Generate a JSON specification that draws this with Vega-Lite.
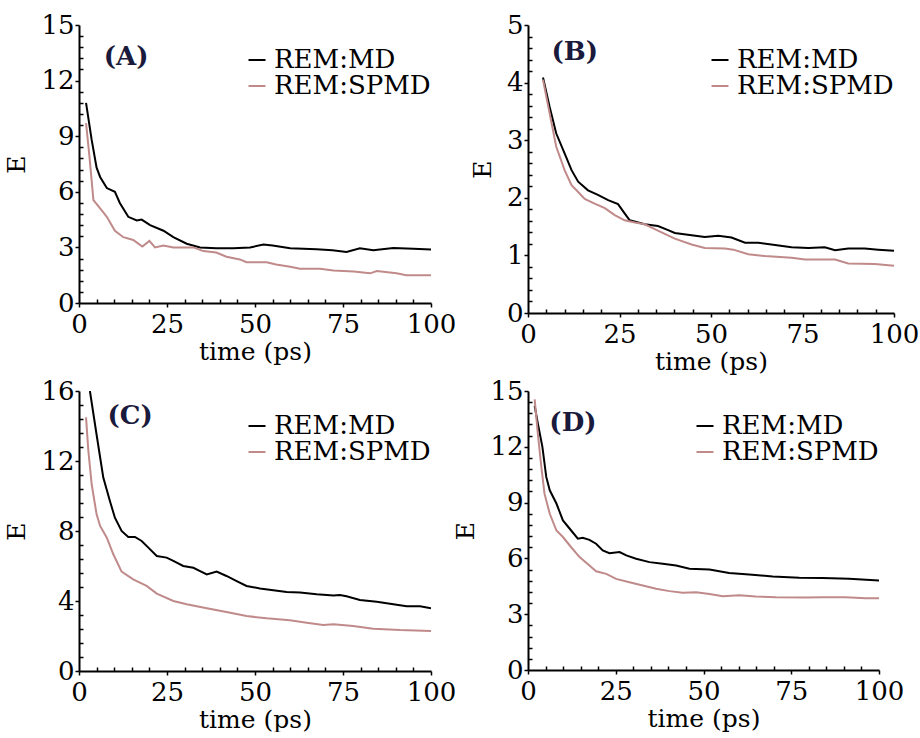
{
  "$schema": "https://vega.github.io/schema/vega-lite/v6.json",
  "padding": {"left": 4, "top": 12, "right": 0, "bottom": 0},
  "background": "white",
  "datasets": {
    "curves": [
      {"p":"A","s":"REM:MD","t":2.0,"E":10.8},{"p":"A","s":"REM:MD","t":3.6,"E":8.8},{"p":"A","s":"REM:MD","t":5,"E":7.3},{"p":"A","s":"REM:MD","t":6,"E":6.8},{"p":"A","s":"REM:MD","t":7.9,"E":6.2},{"p":"A","s":"REM:MD","t":10.2,"E":6.0},{"p":"A","s":"REM:MD","t":11.6,"E":5.4},{"p":"A","s":"REM:MD","t":14,"E":4.65},{"p":"A","s":"REM:MD","t":16.4,"E":4.45},{"p":"A","s":"REM:MD","t":17.8,"E":4.5},{"p":"A","s":"REM:MD","t":20.2,"E":4.2},{"p":"A","s":"REM:MD","t":24,"E":3.9},{"p":"A","s":"REM:MD","t":26.8,"E":3.55},{"p":"A","s":"REM:MD","t":30.6,"E":3.2},{"p":"A","s":"REM:MD","t":34.4,"E":3.0},{"p":"A","s":"REM:MD","t":39,"E":2.95},{"p":"A","s":"REM:MD","t":43.8,"E":2.95},{"p":"A","s":"REM:MD","t":48.6,"E":3.0},{"p":"A","s":"REM:MD","t":52.4,"E":3.15},{"p":"A","s":"REM:MD","t":55,"E":3.1},{"p":"A","s":"REM:MD","t":60,"E":2.95},{"p":"A","s":"REM:MD","t":67.5,"E":2.9},{"p":"A","s":"REM:MD","t":72,"E":2.85},{"p":"A","s":"REM:MD","t":76,"E":2.75},{"p":"A","s":"REM:MD","t":79.8,"E":2.95},{"p":"A","s":"REM:MD","t":83.6,"E":2.85},{"p":"A","s":"REM:MD","t":89.3,"E":2.97},{"p":"A","s":"REM:MD","t":95,"E":2.93},{"p":"A","s":"REM:MD","t":100,"E":2.88},
      {"p":"A","s":"REM:SPMD","t":2,"E":9.7},{"p":"A","s":"REM:SPMD","t":2.9,"E":8.05},{"p":"A","s":"REM:SPMD","t":4.1,"E":5.55},{"p":"A","s":"REM:SPMD","t":6,"E":5.1},{"p":"A","s":"REM:SPMD","t":7.9,"E":4.65},{"p":"A","s":"REM:SPMD","t":10.2,"E":3.9},{"p":"A","s":"REM:SPMD","t":12.6,"E":3.55},{"p":"A","s":"REM:SPMD","t":15.4,"E":3.4},{"p":"A","s":"REM:SPMD","t":18,"E":3.05},{"p":"A","s":"REM:SPMD","t":20,"E":3.35},{"p":"A","s":"REM:SPMD","t":21.6,"E":3.0},{"p":"A","s":"REM:SPMD","t":24,"E":3.1},{"p":"A","s":"REM:SPMD","t":26.8,"E":3.0},{"p":"A","s":"REM:SPMD","t":30.6,"E":3.0},{"p":"A","s":"REM:SPMD","t":32.5,"E":3.0},{"p":"A","s":"REM:SPMD","t":35.3,"E":2.8},{"p":"A","s":"REM:SPMD","t":39,"E":2.72},{"p":"A","s":"REM:SPMD","t":41.9,"E":2.5},{"p":"A","s":"REM:SPMD","t":45.7,"E":2.35},{"p":"A","s":"REM:SPMD","t":47.6,"E":2.2},{"p":"A","s":"REM:SPMD","t":53.3,"E":2.2},{"p":"A","s":"REM:SPMD","t":56,"E":2.08},{"p":"A","s":"REM:SPMD","t":60,"E":1.95},{"p":"A","s":"REM:SPMD","t":62.8,"E":1.85},{"p":"A","s":"REM:SPMD","t":68.5,"E":1.85},{"p":"A","s":"REM:SPMD","t":72.3,"E":1.75},{"p":"A","s":"REM:SPMD","t":78,"E":1.7},{"p":"A","s":"REM:SPMD","t":82.7,"E":1.6},{"p":"A","s":"REM:SPMD","t":84.6,"E":1.72},{"p":"A","s":"REM:SPMD","t":90.2,"E":1.6},{"p":"A","s":"REM:SPMD","t":93,"E":1.5},{"p":"A","s":"REM:SPMD","t":100,"E":1.5},
      {"p":"B","s":"REM:MD","t":4.1,"E":4.09},{"p":"B","s":"REM:MD","t":5.9,"E":3.58},{"p":"B","s":"REM:MD","t":7.7,"E":3.12},{"p":"B","s":"REM:MD","t":10,"E":2.77},{"p":"B","s":"REM:MD","t":11.9,"E":2.48},{"p":"B","s":"REM:MD","t":13.7,"E":2.28},{"p":"B","s":"REM:MD","t":16.4,"E":2.13},{"p":"B","s":"REM:MD","t":19.1,"E":2.05},{"p":"B","s":"REM:MD","t":21.9,"E":1.96},{"p":"B","s":"REM:MD","t":24.6,"E":1.89},{"p":"B","s":"REM:MD","t":26.4,"E":1.73},{"p":"B","s":"REM:MD","t":27.8,"E":1.61},{"p":"B","s":"REM:MD","t":31.9,"E":1.54},{"p":"B","s":"REM:MD","t":35.5,"E":1.51},{"p":"B","s":"REM:MD","t":38.3,"E":1.44},{"p":"B","s":"REM:MD","t":40.1,"E":1.39},{"p":"B","s":"REM:MD","t":44.7,"E":1.35},{"p":"B","s":"REM:MD","t":48.3,"E":1.32},{"p":"B","s":"REM:MD","t":52,"E":1.34},{"p":"B","s":"REM:MD","t":55.6,"E":1.31},{"p":"B","s":"REM:MD","t":59.3,"E":1.22},{"p":"B","s":"REM:MD","t":62.9,"E":1.22},{"p":"B","s":"REM:MD","t":67.5,"E":1.18},{"p":"B","s":"REM:MD","t":72,"E":1.14},{"p":"B","s":"REM:MD","t":76.6,"E":1.13},{"p":"B","s":"REM:MD","t":81.1,"E":1.14},{"p":"B","s":"REM:MD","t":83.9,"E":1.09},{"p":"B","s":"REM:MD","t":87.5,"E":1.12},{"p":"B","s":"REM:MD","t":92,"E":1.12},{"p":"B","s":"REM:MD","t":95.7,"E":1.1},{"p":"B","s":"REM:MD","t":100,"E":1.08},
      {"p":"B","s":"REM:SPMD","t":4.1,"E":4.05},{"p":"B","s":"REM:SPMD","t":5.9,"E":3.47},{"p":"B","s":"REM:SPMD","t":7.7,"E":2.89},{"p":"B","s":"REM:SPMD","t":10,"E":2.48},{"p":"B","s":"REM:SPMD","t":11.9,"E":2.22},{"p":"B","s":"REM:SPMD","t":13.7,"E":2.1},{"p":"B","s":"REM:SPMD","t":15.5,"E":1.98},{"p":"B","s":"REM:SPMD","t":18.2,"E":1.9},{"p":"B","s":"REM:SPMD","t":21,"E":1.82},{"p":"B","s":"REM:SPMD","t":23.7,"E":1.7},{"p":"B","s":"REM:SPMD","t":26.4,"E":1.61},{"p":"B","s":"REM:SPMD","t":29.2,"E":1.57},{"p":"B","s":"REM:SPMD","t":31.9,"E":1.54},{"p":"B","s":"REM:SPMD","t":35.5,"E":1.43},{"p":"B","s":"REM:SPMD","t":40.1,"E":1.29},{"p":"B","s":"REM:SPMD","t":44.7,"E":1.19},{"p":"B","s":"REM:SPMD","t":48.3,"E":1.13},{"p":"B","s":"REM:SPMD","t":53.8,"E":1.12},{"p":"B","s":"REM:SPMD","t":56.1,"E":1.1},{"p":"B","s":"REM:SPMD","t":60.2,"E":1.02},{"p":"B","s":"REM:SPMD","t":64.7,"E":0.99},{"p":"B","s":"REM:SPMD","t":72,"E":0.96},{"p":"B","s":"REM:SPMD","t":75.7,"E":0.93},{"p":"B","s":"REM:SPMD","t":83.9,"E":0.93},{"p":"B","s":"REM:SPMD","t":87.5,"E":0.86},{"p":"B","s":"REM:SPMD","t":94.8,"E":0.85},{"p":"B","s":"REM:SPMD","t":100,"E":0.82},
      {"p":"C","s":"REM:MD","t":3.1,"E":16.0},{"p":"C","s":"REM:MD","t":5,"E":13.5},{"p":"C","s":"REM:MD","t":6.9,"E":11.05},{"p":"C","s":"REM:MD","t":8.8,"E":9.7},{"p":"C","s":"REM:MD","t":10.2,"E":8.76},{"p":"C","s":"REM:MD","t":12.1,"E":8.0},{"p":"C","s":"REM:MD","t":14,"E":7.66},{"p":"C","s":"REM:MD","t":15.9,"E":7.66},{"p":"C","s":"REM:MD","t":17.8,"E":7.43},{"p":"C","s":"REM:MD","t":19.7,"E":7.05},{"p":"C","s":"REM:MD","t":22.1,"E":6.57},{"p":"C","s":"REM:MD","t":24.9,"E":6.48},{"p":"C","s":"REM:MD","t":26.8,"E":6.29},{"p":"C","s":"REM:MD","t":29.6,"E":6.0},{"p":"C","s":"REM:MD","t":32.5,"E":5.9},{"p":"C","s":"REM:MD","t":34.4,"E":5.71},{"p":"C","s":"REM:MD","t":36.3,"E":5.52},{"p":"C","s":"REM:MD","t":39.1,"E":5.68},{"p":"C","s":"REM:MD","t":41.9,"E":5.43},{"p":"C","s":"REM:MD","t":44.8,"E":5.14},{"p":"C","s":"REM:MD","t":47.6,"E":4.86},{"p":"C","s":"REM:MD","t":51.4,"E":4.72},{"p":"C","s":"REM:MD","t":55.2,"E":4.61},{"p":"C","s":"REM:MD","t":59,"E":4.51},{"p":"C","s":"REM:MD","t":62.8,"E":4.48},{"p":"C","s":"REM:MD","t":67.5,"E":4.38},{"p":"C","s":"REM:MD","t":72.3,"E":4.32},{"p":"C","s":"REM:MD","t":74.1,"E":4.34},{"p":"C","s":"REM:MD","t":76,"E":4.27},{"p":"C","s":"REM:MD","t":79.8,"E":4.06},{"p":"C","s":"REM:MD","t":84.6,"E":3.96},{"p":"C","s":"REM:MD","t":89.3,"E":3.81},{"p":"C","s":"REM:MD","t":93.1,"E":3.7},{"p":"C","s":"REM:MD","t":96.9,"E":3.7},{"p":"C","s":"REM:MD","t":100,"E":3.58},
      {"p":"C","s":"REM:SPMD","t":2,"E":14.5},{"p":"C","s":"REM:SPMD","t":2.65,"E":12.6},{"p":"C","s":"REM:SPMD","t":3.6,"E":10.67},{"p":"C","s":"REM:SPMD","t":5,"E":8.95},{"p":"C","s":"REM:SPMD","t":6,"E":8.29},{"p":"C","s":"REM:SPMD","t":7.9,"E":7.62},{"p":"C","s":"REM:SPMD","t":9.75,"E":6.67},{"p":"C","s":"REM:SPMD","t":12.1,"E":5.68},{"p":"C","s":"REM:SPMD","t":15.4,"E":5.24},{"p":"C","s":"REM:SPMD","t":19.2,"E":4.86},{"p":"C","s":"REM:SPMD","t":22.1,"E":4.42},{"p":"C","s":"REM:SPMD","t":26.8,"E":4.0},{"p":"C","s":"REM:SPMD","t":30.6,"E":3.81},{"p":"C","s":"REM:SPMD","t":36.3,"E":3.58},{"p":"C","s":"REM:SPMD","t":41.9,"E":3.37},{"p":"C","s":"REM:SPMD","t":47.6,"E":3.14},{"p":"C","s":"REM:SPMD","t":53.3,"E":3.01},{"p":"C","s":"REM:SPMD","t":59.9,"E":2.9},{"p":"C","s":"REM:SPMD","t":64.7,"E":2.76},{"p":"C","s":"REM:SPMD","t":69.4,"E":2.63},{"p":"C","s":"REM:SPMD","t":72.3,"E":2.67},{"p":"C","s":"REM:SPMD","t":77.9,"E":2.57},{"p":"C","s":"REM:SPMD","t":83.6,"E":2.42},{"p":"C","s":"REM:SPMD","t":91.2,"E":2.34},{"p":"C","s":"REM:SPMD","t":100,"E":2.29},
      {"p":"D","s":"REM:MD","t":1.9,"E":14.2},{"p":"D","s":"REM:MD","t":2.8,"E":13.25},{"p":"D","s":"REM:MD","t":4.1,"E":12.0},{"p":"D","s":"REM:MD","t":5.2,"E":10.38},{"p":"D","s":"REM:MD","t":6.2,"E":9.66},{"p":"D","s":"REM:MD","t":8.1,"E":8.95},{"p":"D","s":"REM:MD","t":9.95,"E":8.04},{"p":"D","s":"REM:MD","t":12.3,"E":7.5},{"p":"D","s":"REM:MD","t":14.2,"E":7.06},{"p":"D","s":"REM:MD","t":15.6,"E":7.11},{"p":"D","s":"REM:MD","t":17.5,"E":7.0},{"p":"D","s":"REM:MD","t":19.4,"E":6.79},{"p":"D","s":"REM:MD","t":21.3,"E":6.43},{"p":"D","s":"REM:MD","t":23.2,"E":6.28},{"p":"D","s":"REM:MD","t":26.1,"E":6.34},{"p":"D","s":"REM:MD","t":28,"E":6.16},{"p":"D","s":"REM:MD","t":30.8,"E":5.98},{"p":"D","s":"REM:MD","t":34.6,"E":5.8},{"p":"D","s":"REM:MD","t":38.4,"E":5.71},{"p":"D","s":"REM:MD","t":42.2,"E":5.62},{"p":"D","s":"REM:MD","t":46,"E":5.44},{"p":"D","s":"REM:MD","t":51.7,"E":5.4},{"p":"D","s":"REM:MD","t":57.3,"E":5.21},{"p":"D","s":"REM:MD","t":63,"E":5.13},{"p":"D","s":"REM:MD","t":69.7,"E":5.03},{"p":"D","s":"REM:MD","t":77.3,"E":4.96},{"p":"D","s":"REM:MD","t":83.9,"E":4.94},{"p":"D","s":"REM:MD","t":91.5,"E":4.9},{"p":"D","s":"REM:MD","t":100,"E":4.81},
      {"p":"D","s":"REM:SPMD","t":1.9,"E":14.55},{"p":"D","s":"REM:SPMD","t":2.8,"E":12.7},{"p":"D","s":"REM:SPMD","t":3.8,"E":10.92},{"p":"D","s":"REM:SPMD","t":4.7,"E":9.48},{"p":"D","s":"REM:SPMD","t":6.2,"E":8.4},{"p":"D","s":"REM:SPMD","t":8.1,"E":7.5},{"p":"D","s":"REM:SPMD","t":9.95,"E":7.15},{"p":"D","s":"REM:SPMD","t":12.3,"E":6.6},{"p":"D","s":"REM:SPMD","t":14.7,"E":6.07},{"p":"D","s":"REM:SPMD","t":17.5,"E":5.62},{"p":"D","s":"REM:SPMD","t":19.4,"E":5.31},{"p":"D","s":"REM:SPMD","t":22.3,"E":5.17},{"p":"D","s":"REM:SPMD","t":25.1,"E":4.9},{"p":"D","s":"REM:SPMD","t":28.9,"E":4.72},{"p":"D","s":"REM:SPMD","t":32.7,"E":4.54},{"p":"D","s":"REM:SPMD","t":36.5,"E":4.37},{"p":"D","s":"REM:SPMD","t":40.3,"E":4.24},{"p":"D","s":"REM:SPMD","t":44.1,"E":4.15},{"p":"D","s":"REM:SPMD","t":47.9,"E":4.18},{"p":"D","s":"REM:SPMD","t":51.7,"E":4.09},{"p":"D","s":"REM:SPMD","t":55.5,"E":3.97},{"p":"D","s":"REM:SPMD","t":60.2,"E":4.02},{"p":"D","s":"REM:SPMD","t":64.9,"E":3.95},{"p":"D","s":"REM:SPMD","t":70.6,"E":3.91},{"p":"D","s":"REM:SPMD","t":79.1,"E":3.9},{"p":"D","s":"REM:SPMD","t":83.9,"E":3.91},{"p":"D","s":"REM:SPMD","t":90.5,"E":3.91},{"p":"D","s":"REM:SPMD","t":96.2,"E":3.86},{"p":"D","s":"REM:SPMD","t":100,"E":3.86}
    ]
  },
  "columns": 2,
  "concat": [
    {
      "width": 352, "height": 278,
      "layer": [
        {
          "data": {"name": "curves"},
          "transform": [{"filter": "datum.p == 'A'"}],
          "mark": {"type": "line", "strokeWidth": 2, "clip": true},
          "encoding": {
            "x": {"field": "t", "type": "quantitative", "scale": {"domain": [0, 100], "nice": false},
              "axis": {"title": "time (ps)", "tickCount": 500, "labelOverlap": false, "values": [0,5,10,15,20,25,30,35,40,45,50,55,60,65,70,75,80,85,90,95,100],
                "labelExpr": "datum.value % 25 == 0 ? format(datum.value, 'd') : ''",
                "tickSize": {"condition": {"test": "datum.value % 25 == 0", "value": 4}, "value": -4}}},
            "y": {"field": "E", "type": "quantitative", "scale": {"domain": [0, 15], "nice": false},
              "axis": {"title": "E", "tickCount": 500, "labelOverlap": false, "values": [0,0.6,1.2,1.8,2.4,3,3.6,4.2,4.8,5.4,6,6.6,7.2,7.8,8.4,9,9.6,10.2,10.8,11.4,12,12.6,13.2,13.8,14.4,15],
                "labelExpr": "abs(datum.value/3 - round(datum.value/3)) < 0.01 ? format(datum.value, 'd') : ''",
                "tickSize": {"condition": {"test": "abs(datum.value/3 - round(datum.value/3)) < 0.01", "value": 4}, "value": -4}}},
            "color": {"field": "s", "type": "nominal", "scale": {"domain": ["REM:MD", "REM:SPMD"], "range": ["#000000", "#c08a8a"]},
              "legend": {"orient": "top-right", "title": " "}}
          }
        },
        {
          "data": {"values": [{"label": "(A)"}]},
          "mark": {"type": "text", "font": "DejaVu Serif", "fontSize": 26, "fontWeight": "bold", "color": "#1a1a3c"},
          "encoding": {"x": {"datum": 13.4, "type": "quantitative"}, "y": {"datum": 13.3, "type": "quantitative"}, "text": {"field": "label"}}
        }
      ]
    },
    {
      "width": 366, "height": 288,
      "layer": [
        {
          "data": {"name": "curves"},
          "transform": [{"filter": "datum.p == 'B'"}],
          "mark": {"type": "line", "strokeWidth": 2, "clip": true},
          "encoding": {
            "x": {"field": "t", "type": "quantitative", "scale": {"domain": [0, 100], "nice": false},
              "axis": {"title": "time (ps)", "tickCount": 500, "labelOverlap": false, "values": [0,5,10,15,20,25,30,35,40,45,50,55,60,65,70,75,80,85,90,95,100],
                "labelExpr": "datum.value % 25 == 0 ? format(datum.value, 'd') : ''",
                "tickSize": {"condition": {"test": "datum.value % 25 == 0", "value": 4}, "value": -4}}},
            "y": {"field": "E", "type": "quantitative", "scale": {"domain": [0, 5], "nice": false},
              "axis": {"title": "E", "tickCount": 500, "labelOverlap": false, "values": [0,0.2,0.4,0.6,0.8,1,1.2,1.4,1.6,1.8,2,2.2,2.4,2.6,2.8,3,3.2,3.4,3.6,3.8,4,4.2,4.4,4.6,4.8,5],
                "labelExpr": "abs(datum.value - round(datum.value)) < 0.01 ? format(datum.value, 'd') : ''",
                "tickSize": {"condition": {"test": "abs(datum.value - round(datum.value)) < 0.01", "value": 4}, "value": -4}}},
            "color": {"field": "s", "type": "nominal", "scale": {"domain": ["REM:MD", "REM:SPMD"], "range": ["#000000", "#c08a8a"]},
              "legend": {"orient": "top-right", "title": " "}}
          }
        },
        {
          "data": {"values": [{"label": "(B)"}]},
          "mark": {"type": "text", "font": "DejaVu Serif", "fontSize": 26, "fontWeight": "bold", "color": "#1a1a3c"},
          "encoding": {"x": {"datum": 12.8, "type": "quantitative"}, "y": {"datum": 4.53, "type": "quantitative"}, "text": {"field": "label"}}
        }
      ]
    },
    {
      "width": 352, "height": 280,
      "layer": [
        {
          "data": {"name": "curves"},
          "transform": [{"filter": "datum.p == 'C'"}],
          "mark": {"type": "line", "strokeWidth": 2, "clip": true},
          "encoding": {
            "x": {"field": "t", "type": "quantitative", "scale": {"domain": [0, 100], "nice": false},
              "axis": {"title": "time (ps)", "tickCount": 500, "labelOverlap": false, "values": [0,5,10,15,20,25,30,35,40,45,50,55,60,65,70,75,80,85,90,95,100],
                "labelExpr": "datum.value % 25 == 0 ? format(datum.value, 'd') : ''",
                "tickSize": {"condition": {"test": "datum.value % 25 == 0", "value": 4}, "value": -4}}},
            "y": {"field": "E", "type": "quantitative", "scale": {"domain": [0, 16], "nice": false},
              "axis": {"title": "E", "tickCount": 500, "labelOverlap": false, "values": [0,0.8,1.6,2.4,3.2,4,4.8,5.6,6.4,7.2,8,8.8,9.6,10.4,11.2,12,12.8,13.6,14.4,15.2,16],
                "labelExpr": "abs(datum.value/4 - round(datum.value/4)) < 0.01 ? format(datum.value, 'd') : ''",
                "tickSize": {"condition": {"test": "abs(datum.value/4 - round(datum.value/4)) < 0.01", "value": 4}, "value": -4}}},
            "color": {"field": "s", "type": "nominal", "scale": {"domain": ["REM:MD", "REM:SPMD"], "range": ["#000000", "#c08a8a"]},
              "legend": {"orient": "top-right", "title": " "}}
          }
        },
        {
          "data": {"values": [{"label": "(C)"}]},
          "mark": {"type": "text", "font": "DejaVu Serif", "fontSize": 26, "fontWeight": "bold", "color": "#1a1a3c"},
          "encoding": {"x": {"datum": 14.5, "type": "quantitative"}, "y": {"datum": 14.6, "type": "quantitative"}, "text": {"field": "label"}}
        }
      ]
    },
    {
      "width": 351, "height": 279,
      "layer": [
        {
          "data": {"name": "curves"},
          "transform": [{"filter": "datum.p == 'D'"}],
          "mark": {"type": "line", "strokeWidth": 2, "clip": true},
          "encoding": {
            "x": {"field": "t", "type": "quantitative", "scale": {"domain": [0, 100], "nice": false},
              "axis": {"title": "time (ps)", "tickCount": 500, "labelOverlap": false, "values": [0,5,10,15,20,25,30,35,40,45,50,55,60,65,70,75,80,85,90,95,100],
                "labelExpr": "datum.value % 25 == 0 ? format(datum.value, 'd') : ''",
                "tickSize": {"condition": {"test": "datum.value % 25 == 0", "value": 4}, "value": -4}}},
            "y": {"field": "E", "type": "quantitative", "scale": {"domain": [0, 15], "nice": false},
              "axis": {"title": "E", "tickCount": 500, "labelOverlap": false, "values": [0,0.6,1.2,1.8,2.4,3,3.6,4.2,4.8,5.4,6,6.6,7.2,7.8,8.4,9,9.6,10.2,10.8,11.4,12,12.6,13.2,13.8,14.4,15],
                "labelExpr": "abs(datum.value/3 - round(datum.value/3)) < 0.01 ? format(datum.value, 'd') : ''",
                "tickSize": {"condition": {"test": "abs(datum.value/3 - round(datum.value/3)) < 0.01", "value": 4}, "value": -4}}},
            "color": {"field": "s", "type": "nominal", "scale": {"domain": ["REM:MD", "REM:SPMD"], "range": ["#000000", "#c08a8a"]},
              "legend": {"orient": "top-right", "title": " "}}
          }
        },
        {
          "data": {"values": [{"label": "(D)"}]},
          "mark": {"type": "text", "font": "DejaVu Serif", "fontSize": 26, "fontWeight": "bold", "color": "#1a1a3c"},
          "encoding": {"x": {"datum": 12.8, "type": "quantitative"}, "y": {"datum": 13.3, "type": "quantitative"}, "text": {"field": "label"}}
        }
      ]
    }
  ],
  "spacing": {"row": 78, "column": 97},
  "bounds": "flush",
  "resolve": {"scale": {"color": "independent"}},
  "config": {
    "view": {"stroke": null},
    "axis": {
      "grid": false,
      "domainColor": "#000000", "domainWidth": 2,
      "tickColor": "#000000", "tickWidth": 1.5,
      "labelFont": "DejaVu Serif", "labelFontSize": 26, "labelColor": "#000000", "labelPadding": 1,
      "labelOverlap": false, "labelFlush": false, "labelBound": false,
      "titleFont": "DejaVu Serif", "titleFontSize": 25, "titleFontWeight": "normal", "titleColor": "#000000"
    },
    "axisX": {"titlePadding": 2, "labelPadding": 4},
    "axisY": {"titlePadding": 11},
    "legend": {
      "labelFont": "DejaVu Serif", "labelFontSize": 26, "labelColor": "#000000", "labelLimit": 400,
      "symbolType": "stroke", "symbolStrokeWidth": 2, "symbolSize": 289, "labelOffset": 4,
      "titleFontSize": 20, "titlePadding": 2, "rowPadding": -2, "padding": 0, "offset": 0
    }
  }
}
